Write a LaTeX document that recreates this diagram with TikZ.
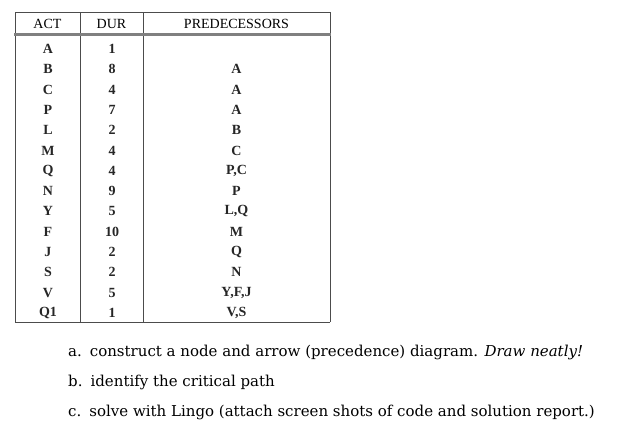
\documentclass[tikz,border=0pt]{standalone}
\usepackage{fontspec}
\setmainfont{Liberation Serif}
\newfontfamily\itemfont{DejaVu Serif}
\begin{document}
\begin{tikzpicture}[x=1pt,y=-1pt,
  cell/.style={font=\fontsize{14}{14}\selectfont\bfseries, text=black!85, inner sep=0pt},
  hd/.style={font=\fontsize{14}{14}\selectfont, inner sep=0pt},
  item/.style={font=\itemfont\fontsize{15}{16}\selectfont, anchor=base west, inner sep=0pt}]
\useasboundingbox (0,0) rectangle (641,440);
\draw[line width=0.8pt, black!70] (15,12) -- (330,12) (15,322) -- (330,322);
\draw[line width=0.8pt, black!70] (15,12) -- (15,322) (80,12) -- (80,322) (143,12) -- (143,322) (330,12) -- (330,322);
\draw[line width=3pt, black!50] (14,34) -- (331,34);
\node[hd] (h1) at (47.5,24) {ACT};
\node[hd] (h2) at (111.5,24) {DUR};
\node[hd] (h3) at (236.5,24) {PREDECESSORS};
\foreach \a/\d/\p [count=\i from 0] in {A/1/,B/8/A,C/4/A,P/7/A,L/2/B,M/4/C,Q/4/{P,C},N/9/P,Y/5/{L,Q},F/10/M,J/2/Q,S/2/N,V/5/{Y,F,J},Q1/1/{V,S}}{
  \node[cell] (a\i) at (48,49+20.3*\i) {\a};
  \node[cell] (d\i) at (112,49+20.3*\i) {\d};
  \node[cell] (p\i) at (236.5,49+20.3*\i) {\p};
}
\node[item] (ia) at (68,356) {a.\hspace{8pt}construct a node and arrow (precedence) diagram. \textit{Draw neatly!}};
\node[item] (ib) at (68,386) {b.\hspace{8pt}identify the critical path};
\node[item] (ic) at (68,416) {c.\hspace{8pt}solve with Lingo (attach screen shots of code and solution report.)};
\end{tikzpicture}
\end{document}
